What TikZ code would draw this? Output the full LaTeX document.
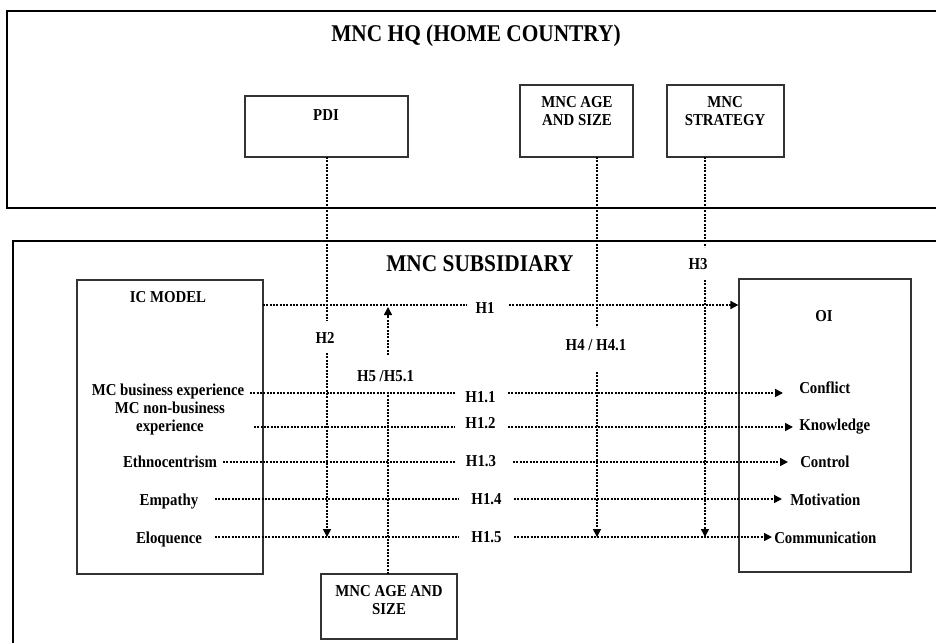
\documentclass[tikz,border=0pt]{standalone}
\usepackage{fontspec}
\setmainfont{Liberation Serif}[FakeStretch=0.89]
\usetikzlibrary{arrows.meta}
\begin{document}
\begin{tikzpicture}[x=0.75pt,y=-0.75pt,
  lab/.style={font=\bfseries\fontsize{12.5}{13.5}\selectfont, inner sep=0pt, anchor=base, align=center},
  ttl/.style={font=\bfseries\fontsize{18}{20}\selectfont, inner sep=0pt, anchor=base},
  frame/.style={line width=1.5pt, line join=miter},
  box/.style={draw=black!80, line width=0.9pt, inner sep=0pt},
  dotline/.style={line width=1.2pt, dash pattern=on 1.4pt off 1.1pt},
  arr/.style={dotline, -{Triangle[length=6pt,width=6pt]}}]
\useasboundingbox (0,0) rectangle (936,643);
\clip (0,0) rectangle (936,643);
\fill[white] (0,0) rectangle (936,643);

% outer frames (cut off at the right / bottom edge)
\draw[frame] (950,11) -- (7,11) -- (7,208) -- (950,208);
\draw[frame] (950,241) -- (13,241) -- (13,660);

% boxes
\node[box, minimum width=122.25pt, minimum height=45.75pt] (pdi) at (326.5,126.5) {};
\node[box, minimum width=84.75pt, minimum height=54pt] (ageTop) at (576.5,121) {};
\node[box, minimum width=87.75pt, minimum height=54pt] (strat) at (725.5,121) {};
\node[box, minimum width=139.5pt, minimum height=220.5pt] (ic) at (170,427) {};
\node[box, minimum width=129pt, minimum height=219.75pt] (oi) at (825,425.5) {};
\node[box, minimum width=102pt, minimum height=48.75pt] (ageBot) at (389,606.5) {};

% titles
\node[ttl] (hq) at (476,41) {MNC HQ (HOME COUNTRY)};
\node[ttl] (sub) at (480,271) {MNC SUBSIDIARY};

% box texts (multi-line nodes: base = last line)
\node[lab] (pdit) at (326,120) {PDI};
\node[lab] (aget) at (577,125) {MNC AGE\\AND SIZE};
\node[lab] (stratt) at (725,125) {MNC\\STRATEGY};
\node[lab] (ict) at (168,302) {IC MODEL};
\node[lab] (oit) at (824,321) {OI};
\node[lab] (agebt) at (389,614) {MNC AGE AND\\SIZE};

% left items
\node[lab] (l1) at (168,395) {MC business experience};
\node[lab] (l2) at (170,431) {MC non-business\\experience};
\node[lab] (l3) at (170,467) {Ethnocentrism};
\node[lab] (l4) at (169,505) {Empathy};
\node[lab] (l5) at (169,543) {Eloquence};

% right items
\node[lab, anchor=base west] (r1) at (799,393) {Conflict};
\node[lab, anchor=base west] (r2) at (799,430) {Knowledge};
\node[lab, anchor=base west] (r3) at (800,467) {Control};
\node[lab, anchor=base west] (r4) at (790,505) {Motivation};
\node[lab, anchor=base west] (r5) at (774,543) {Communication};

% hypothesis labels
\node[lab] (h1) at (485,313) {H1};
\node[lab] (h11) at (480.5,402) {H1.1};
\node[lab] (h12) at (480.5,428) {H1.2};
\node[lab] (h13) at (481,466) {H1.3};
\node[lab] (h14) at (486.5,504) {H1.4};
\node[lab] (h15) at (486.5,542) {H1.5};
\node[lab] (h2) at (325,343) {H2};
\node[lab] (h3) at (698,269) {H3};
\node[lab] (h4) at (596,350) {H4 / H4.1};
\node[lab] (h5) at (385.5,381) {H5 /H5.1};

% H1 main connector
\coordinate (a0) at (263,305);
\coordinate (b0) at (467,305);
\coordinate (c0) at (509,305);
\draw[dotline] (a0) -- (b0);
\draw[arr] (c0) -- (oi.west |- c0);

% item rows
\foreach \i/\y/\xs/\xl/\xr/\xe in {1/393/250/455/508/783, 2/427/254/455/508/793, 3/462/223/455/513/788, 4/499/215/459/514/782, 5/537/215/459/514/772}{
  \coordinate (s\i) at (\xs,\y);
  \coordinate (m\i) at (\xl,\y);
  \coordinate (n\i) at (\xr,\y);
  \coordinate (e\i) at (\xe,\y);
  \draw[dotline] (s\i) -- (m\i);
  \draw[arr] (n\i) -- (e\i);
}

% vertical moderators
\coordinate (p1) at (327,157); \coordinate (p2) at (327,321);
\coordinate (p3) at (327,353); \coordinate (p4) at (327,537);
\draw[dotline] (p1) -- (p2);
\draw[arr] (p3) -- (p4);

\coordinate (q1) at (597,157); \coordinate (q2) at (597,327);
\coordinate (q3) at (597,372); \coordinate (q4) at (597,537);
\draw[dotline] (q1) -- (q2);
\draw[arr] (q3) -- (q4);

\coordinate (t1) at (705,157); \coordinate (t2) at (705,247);
\coordinate (t3) at (705,280); \coordinate (t4) at (705,537);
\draw[dotline] (t1) -- (t2);
\draw[arr] (t3) -- (t4);

\coordinate (u1) at (388,574); \coordinate (u2) at (388,392);
\coordinate (u3) at (388,355); \coordinate (u4) at (388,307);
\draw[dotline] (u1) -- (u2);
\draw[arr] (u3) -- (u4);
\end{tikzpicture}
\end{document}
